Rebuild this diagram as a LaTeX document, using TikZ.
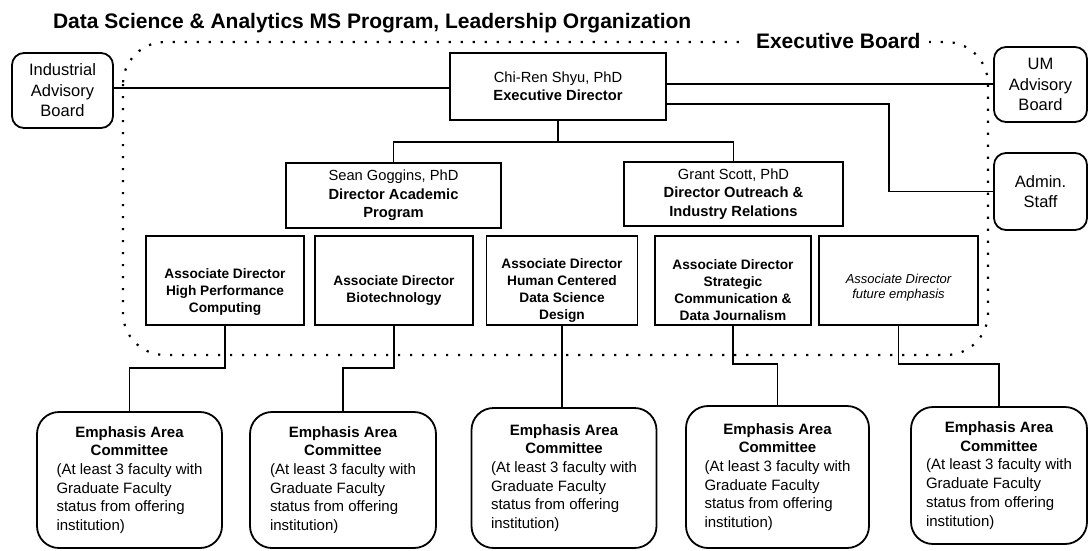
\documentclass[tikz,border=0pt]{standalone}
\usepackage{fontspec}
\setmainfont{Liberation Sans}
\newcommand\cmtext{\begin{tabular}{@{}l@{}}\multicolumn{1}{@{}c@{}}{\bfseries Emphasis Area}\\\multicolumn{1}{@{}c@{}}{\bfseries Committee}\\(At least 3 faculty with\\Graduate Faculty\\status from offering\\institution)\end{tabular}}
\begin{document}
\begin{tikzpicture}[x=1pt,y=-1pt,
 every node/.style={inner sep=0pt,outer sep=0pt},
 boxline/.style={draw,line width=1.8pt},
 sqbox/.style={boxline,rectangle,align=center,font=\fontsize{14.7}{18.3}\selectfont},
 sidebox/.style={boxline,rectangle,rounded corners=12pt,align=center,font=\fontsize{16.5}{20.5}\selectfont},
 assocbox/.style={boxline,rectangle,minimum height=89pt},
 assoctext/.style={align=center,font=\fontsize{13.7}{17}\selectfont\bfseries},
 cmbox/.style={boxline,rectangle,rounded corners=22pt,font=\fontsize{15}{18.7}\selectfont},
 conn/.style={line width=1.8pt},
 frame/.style={line width=2.2pt,dash pattern=on 2.2pt off 9.8pt,rounded corners=42pt}]

\useasboundingbox (0,0) rectangle (1089,550);

% Executive board frame
\draw[frame] (123,42) rectangle (988,355);
\node[anchor=base west,fill=white,inner xsep=8pt,inner ysep=3pt,font=\fontsize{21}{25}\selectfont\bfseries] (eb) at (748,48) {Executive Board};

% title
\node[anchor=base west,font=\fontsize{21}{25}\selectfont\bfseries] (title) at (53,28) {Data Science \& Analytics MS Program, Leadership Organization};

% top row
\node[sidebox,minimum width=101pt,minimum height=75pt] (ind) at (62.5,90.5) {Industrial\\Advisory\\Board};
\node[sqbox,minimum width=216pt,minimum height=67pt] (chi) at (558,86.5) {Chi-Ren Shyu, PhD\\\textbf{Executive Director}};
\node[sidebox,minimum width=93pt,minimum height=75pt] (um) at (1040.5,84.5) {UM\\Advisory\\Board};
\node[sidebox,minimum width=93pt,minimum height=77pt] (admin) at (1040.5,191.5) {Admin.\\Staff};

% directors
\node[sqbox,minimum width=215pt,minimum height=65pt] (sean) at (393.5,195.5) {Sean Goggins, PhD\\\textbf{Director Academic}\\\textbf{Program}};
\node[sqbox,minimum width=219pt,minimum height=64pt] (grant) at (733.5,194) {Grant Scott, PhD\\\textbf{Director Outreach \&}\\\textbf{Industry Relations}};

% associate directors
\node[assocbox,minimum width=158pt] (a1) at (225,280.5) {};
\node[assocbox,minimum width=158pt] (a2) at (394,280.5) {};
\node[assocbox,minimum width=151pt] (a3) at (562,280.5) {};
\node[assocbox,minimum width=156pt] (a4) at (733,280.5) {};
\node[assocbox,minimum width=159pt] (a5) at (898.5,280.5) {};
\node[assoctext] (a1t) at (225,292) {Associate Director\\High Performance\\Computing};
\node[assoctext] (a2t) at (394,290) {Associate Director\\Biotechnology};
\node[assoctext] (a3t) at (562,290.5) {Associate Director\\Human Centered\\Data Science\\Design};
\node[assoctext] (a4t) at (733,290.5) {Associate Director\\Strategic\\Communication \&\\Data Journalism};
\node[assoctext,font=\fontsize{13}{15.5}\selectfont\itshape] (a5t) at (898.5,287.5) {Associate Director\\future emphasis};

% committees
\node[cmbox,minimum width=185pt,minimum height=136pt] (c1) at (129.5,480) {\cmtext};
\node[cmbox,minimum width=186pt,minimum height=136pt] (c2) at (343,480) {\cmtext};
\node[cmbox,minimum width=185pt,minimum height=140pt] (c3) at (564,478) {\cmtext};
\node[cmbox,minimum width=183pt,minimum height=142pt] (c4) at (777.5,477) {\cmtext};
\node[cmbox,minimum width=176pt,minimum height=137pt] (c5) at (999,475.5) {\cmtext};

% helper coordinates
\coordinate (yA) at (0,88);
\coordinate (yB) at (0,84);
\coordinate (yC) at (0,104);
\coordinate (bend) at (889,0);
\coordinate (hbar) at (0,142);
\coordinate (stepL) at (0,368);
\coordinate (stepR) at (0,364);

% connectors
\draw[conn] (ind.east |- yA) -- (chi.west |- yA);
\draw[conn] (chi.east |- yB) -- (um.west |- yB);
\draw[conn] (chi.east |- yC) -| (bend |- admin.west) -- (admin.west);
\draw[conn] (chi.south) -- (chi.south |- hbar);
\draw[conn] (sean.north) |- (grant.north |- hbar) -- (grant.north);
\draw[conn] (a1.south) -- (a1.south |- stepL) -| (c1.north);
\draw[conn] (a2.south) -- (a2.south |- stepL) -| (c2.north);
\draw[conn] (a3.south) -- (a3.south |- c3.north);
\draw[conn] (a4.south) -- (a4.south |- stepR) -| (c4.north);
\draw[conn] (a5.south) -- (a5.south |- stepR) -| (c5.north);
\end{tikzpicture}
\end{document}
